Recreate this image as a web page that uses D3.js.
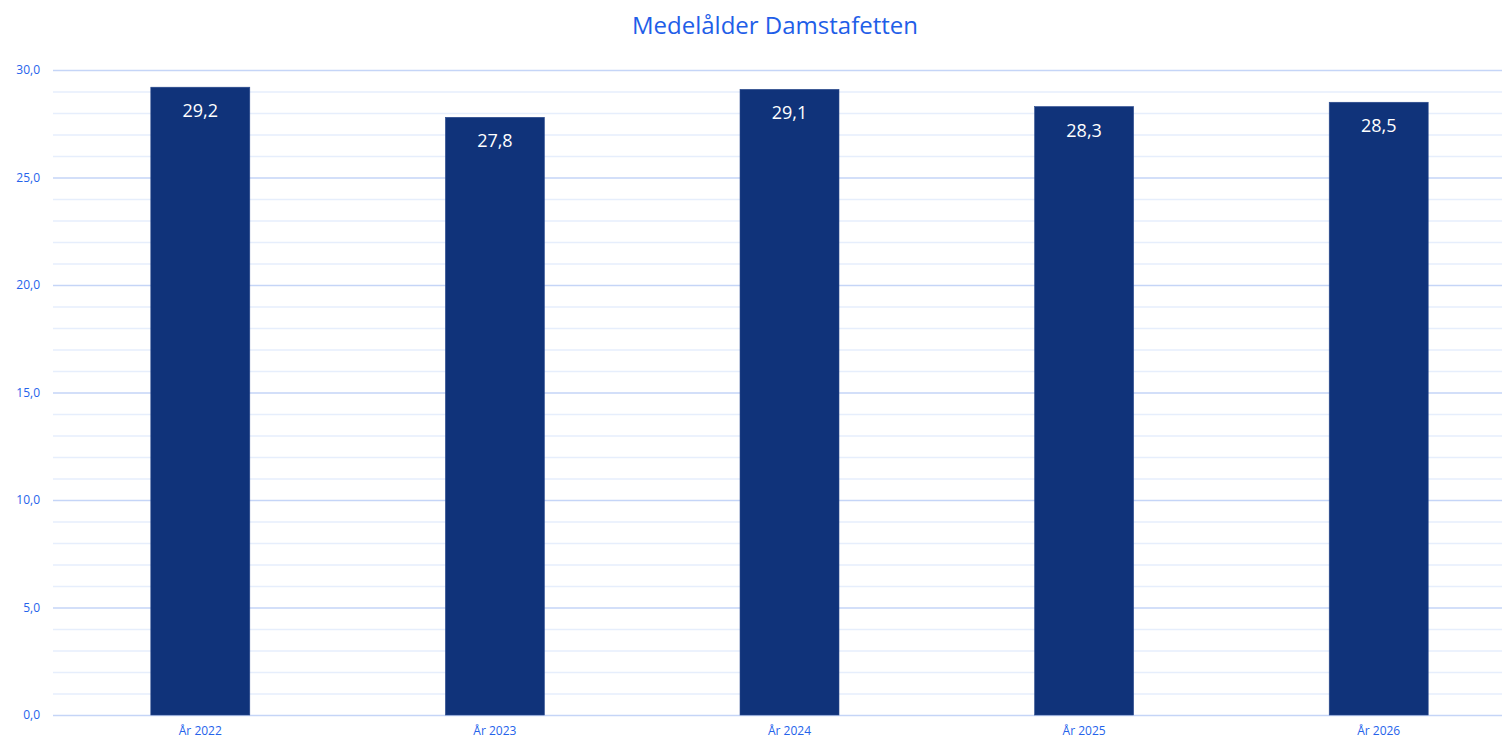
<!DOCTYPE html>
<html><head><meta charset="utf-8">
<script src="https://cdn.jsdelivr.net/npm/d3@7"></script>
<style>body{margin:0;background:#fff}svg{display:block}text{font-family:"Open Sans","Noto Sans",sans-serif}</style>
</head><body>
<svg id="c" width="1503" height="742"></svg>
<script>
const categories = ["År 2022","År 2023","År 2024","År 2025","År 2026"];
const values = [29.2,27.8,29.1,28.3,28.5];
const yTicks = [0,5,10,15,20,25,30];
const title = "Medelålder Damstafetten";

(function(){
const svg = d3.select("#c");
const mLeft = 53, mRight = 1526, gridRight = 1502, mTop = 70, mBottom = 715;
const x = d3.scaleBand().domain(categories).range([mLeft, mRight]).paddingInner(0.664).paddingOuter(0.332);
const y = d3.scaleLinear().domain([0,30]).range([mBottom, mTop]);
const fmt = v => d3.format(".1f")(v).replace(".", ",");

// minor grid
svg.append("g").selectAll("line").data(d3.range(0,31,1).filter(v=>v%5!==0)).join("line")
  .attr("x1",mLeft).attr("x2",gridRight).attr("y1",d=>y(d)+0.5).attr("y2",d=>y(d)+0.5)
  .attr("stroke","#e6eefc").attr("stroke-width",1.5);
// major grid
svg.append("g").selectAll("line").data(yTicks).join("line")
  .attr("x1",mLeft).attr("x2",gridRight).attr("y1",d=>y(d)+0.5).attr("y2",d=>y(d)+0.5)
  .attr("stroke","#c5d5f7").attr("stroke-width",1.5);

// y axis labels
const ya = svg.append("g").attr("transform",`translate(${mLeft},0)`)
  .call(d3.axisLeft(y).tickValues(yTicks).tickFormat(fmt).tickSize(0).tickPadding(13));
ya.select(".domain").remove();
ya.selectAll("text").attr("fill","#2563eb").attr("font-size",12).attr("font-family","'Open Sans','Noto Sans',sans-serif");

// bars
svg.append("g").selectAll("rect").data(values).join("rect")
  .attr("x",(d,i)=>x(categories[i])).attr("width",x.bandwidth())
  .attr("y",d=>y(d)).attr("height",d=>mBottom-y(d))
  .attr("fill","#10337a").attr("stroke","#2a4a8e").attr("stroke-width",0.6);

// value labels
svg.append("g").selectAll("text").data(values).join("text")
  .attr("x",(d,i)=>x(categories[i])+x.bandwidth()/2).attr("y",d=>y(d)+30)
  .attr("text-anchor","middle").attr("fill","#fff").attr("font-size",18)
  .text(d=>fmt(d));

// x axis
const xa = svg.append("g").attr("transform",`translate(0,${mBottom})`)
  .call(d3.axisBottom(x).tickSize(0).tickPadding(11));
xa.select(".domain").remove();
xa.selectAll("text").attr("fill","#2563eb").attr("font-size",12).attr("font-family","'Open Sans','Noto Sans',sans-serif");

// title
svg.append("text").attr("x",775).attr("y",34).attr("text-anchor","middle")
  .attr("fill","#1f5ee8").attr("font-size",24).text(title);
})();
</script>
</body></html>
